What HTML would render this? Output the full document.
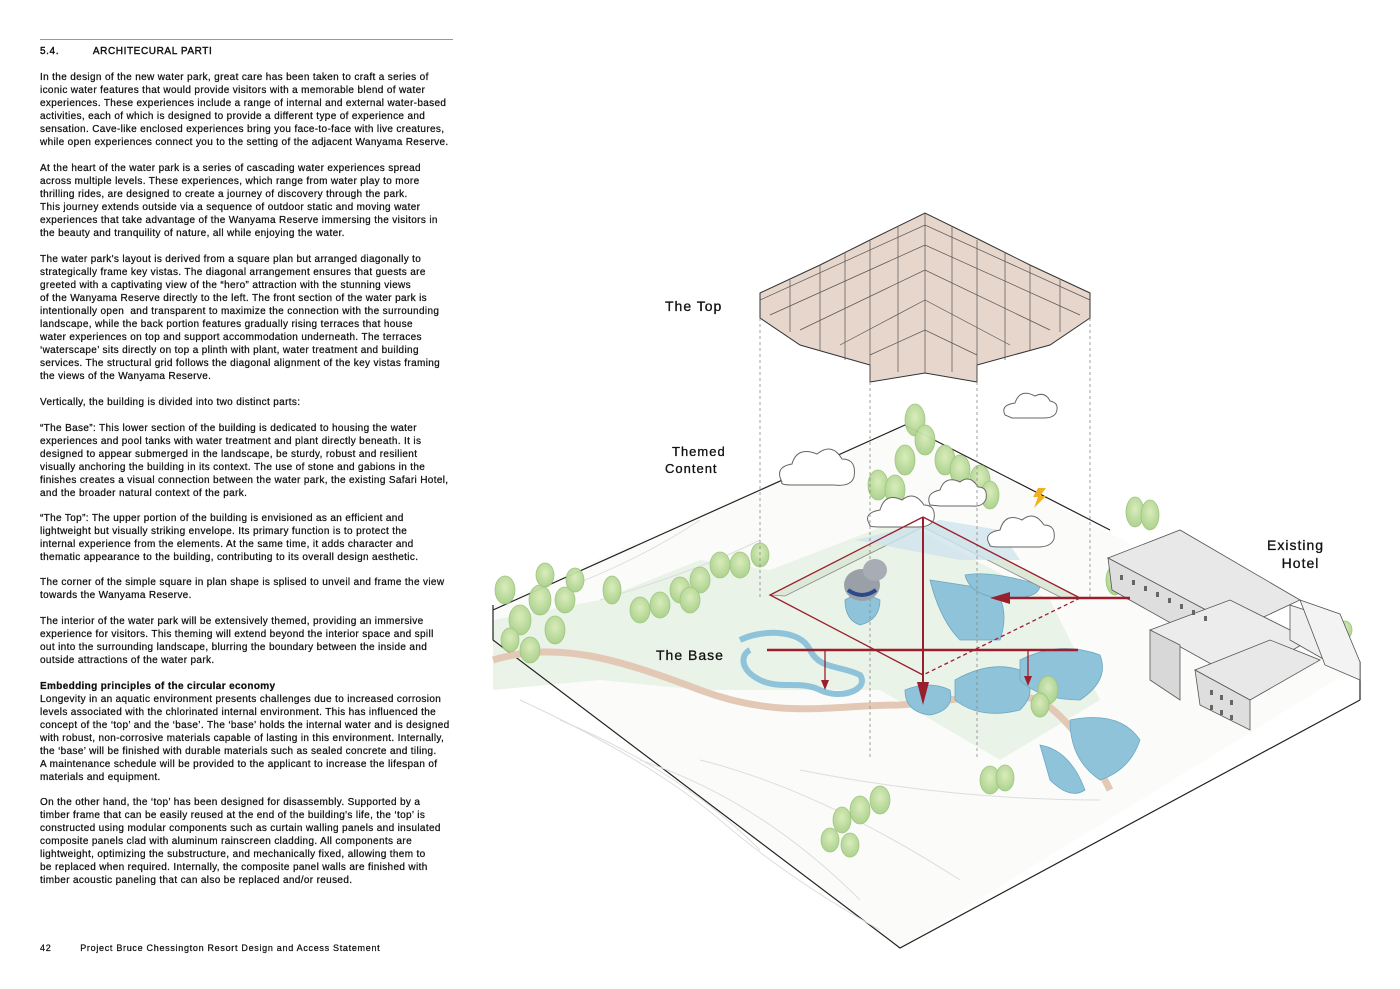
<!DOCTYPE html>
<html><head><meta charset="utf-8">
<style>
html,body{margin:0;padding:0;background:#fff;}
body{width:1400px;height:989px;position:relative;overflow:hidden;font-family:"Liberation Sans",sans-serif;color:#111;}
.t{position:absolute;left:40px;font-size:10px;line-height:12.95px;letter-spacing:0.35px;white-space:nowrap;-webkit-text-stroke:0.25px #111;}
.lbl{position:absolute;font-size:14px;letter-spacing:1px;color:#111;white-space:nowrap;-webkit-text-stroke:0.3px #111;}
</style></head><body>
<div style="position:absolute;left:40px;top:39px;width:413px;height:1px;background:#999"></div>
<div class="t" style="top:46px;letter-spacing:0.6px;-webkit-text-stroke:0.4px #111">5.4.&nbsp;&nbsp;&nbsp;&nbsp;&nbsp;&nbsp;&nbsp;&nbsp;&nbsp;&nbsp;ARCHITECURAL PARTI</div>

<div class="t" style="top:72px">In the design of the new water park, great care has been taken to craft a series of<br>iconic water features that would provide visitors with a memorable blend of water<br>experiences. These experiences include a range of internal and external water-based<br>activities, each of which is designed to provide a different type of experience and<br>sensation. Cave-like enclosed experiences bring you face-to-face with live creatures,<br>while open experiences connect you to the setting of the adjacent Wanyama Reserve.</div>

<div class="t" style="top:163px">At the heart of the water park is a series of cascading water experiences spread<br>across multiple levels. These experiences, which range from water play to more<br>thrilling rides, are designed to create a journey of discovery through the park.<br>This journey extends outside via a sequence of outdoor static and moving water<br>experiences that take advantage of the Wanyama Reserve immersing the visitors in<br>the beauty and tranquility of nature, all while enjoying the water.</div>

<div class="t" style="top:254px">The water park's layout is derived from a square plan but arranged diagonally to<br>strategically frame key vistas. The diagonal arrangement ensures that guests are<br>greeted with a captivating view of the “hero” attraction with the stunning views<br>of the Wanyama Reserve directly to the left. The front section of the water park is<br>intentionally open&nbsp; and transparent to maximize the connection with the surrounding<br>landscape, while the back portion features gradually rising terraces that house<br>water experiences on top and support accommodation underneath. The terraces<br>‘waterscape’ sits directly on top a plinth with plant, water treatment and building<br>services. The structural grid follows the diagonal alignment of the key vistas framing<br>the views of the Wanyama Reserve.</div>

<div class="t" style="top:397px">Vertically, the building is divided into two distinct parts:</div>

<div class="t" style="top:423px">“The Base”: This lower section of the building is dedicated to housing the water<br>experiences and pool tanks with water treatment and plant directly beneath. It is<br>designed to appear submerged in the landscape, be sturdy, robust and resilient<br>visually anchoring the building in its context. The use of stone and gabions in the<br>finishes creates a visual connection between the water park, the existing Safari Hotel,<br>and the broader natural context of the park.</div>

<div class="t" style="top:513px">“The Top”: The upper portion of the building is envisioned as an efficient and<br>lightweight but visually striking envelope. Its primary function is to protect the<br>internal experience from the elements. At the same time, it adds character and<br>thematic appearance to the building, contributing to its overall design aesthetic.</div>

<div class="t" style="top:577px">The corner of the simple square in plan shape is splised to unveil and frame the view<br>towards the Wanyama Reserve.</div>

<div class="t" style="top:616px">The interior of the water park will be extensively themed, providing an immersive<br>experience for visitors. This theming will extend beyond the interior space and spill<br>out into the surrounding landscape, blurring the boundary between the inside and<br>outside attractions of the water park.</div>

<div class="t" style="top:681px"><b>Embedding principles of the circular economy</b><br>Longevity in an aquatic environment presents challenges due to increased corrosion<br>levels associated with the chlorinated internal environment. This has influenced the<br>concept of the ‘top’ and the ‘base’. The ‘base’ holds the internal water and is designed<br>with robust, non-corrosive materials capable of lasting in this environment. Internally,<br>the ‘base’ will be finished with durable materials such as sealed concrete and tiling.<br>A maintenance schedule will be provided to the applicant to increase the lifespan of<br>materials and equipment.</div>

<div class="t" style="top:797px">On the other hand, the ‘top’ has been designed for disassembly. Supported by a<br>timber frame that can be easily reused at the end of the building's life, the ‘top’ is<br>constructed using modular components such as curtain walling panels and insulated<br>composite panels clad with aluminum rainscreen cladding. All components are<br>lightweight, optimizing the substructure, and mechanically fixed, allowing them to<br>be replaced when required. Internally, the composite panel walls are finished with<br>timber acoustic paneling that can also be replaced and/or reused.</div>

<div class="t" style="top:942px;font-size:9px;letter-spacing:0.7px">42&nbsp;&nbsp;&nbsp;&nbsp;&nbsp;&nbsp;&nbsp;&nbsp;&nbsp;Project Bruce Chessington Resort Design and Access Statement</div>

<svg width="1400" height="989" style="position:absolute;left:0;top:0" xmlns="http://www.w3.org/2000/svg">
<defs>
<radialGradient id="tr" cx="50%" cy="40%" r="60%"><stop offset="0" stop-color="#d8ecb8"/><stop offset="1" stop-color="#a9d08a"/></radialGradient>
</defs>
<!-- ground -->
<polygon points="493,605 905,425 1360,665 900,948 493,640" fill="#fbfcfa"/>
<polygon points="493,620 600,600 700,560 770,570 900,520 1050,600 1100,700 1000,760 880,690 700,690 600,680 493,690" fill="#e6f0e2" opacity="0.8"/>
<path d="M493,610 L905,425 L1110,530 M1290,625 L1360,662 L1360,700 M1360,700 L900,948 L493,640 L493,605" fill="none" stroke="#222" stroke-width="1.2"/>
<g stroke="#ddd" fill="none" stroke-width="1">
<path d="M520,700 Q650,760 720,820 T880,930"/><path d="M560,720 Q680,770 760,850"/><path d="M640,760 Q760,800 860,900"/><path d="M700,760 Q820,790 960,880"/><path d="M800,770 Q950,800 1100,800"/><path d="M560,590 Q640,560 700,520"/><path d="M600,600 Q700,570 760,540"/>
</g>
<path d="M493,660 C560,640 620,660 700,690 C780,720 830,705 900,705 C960,700 1000,690 1040,700 C1070,720 1090,750 1110,790" fill="none" stroke="#e3c9b5" stroke-width="7"/>
<g fill="#8fc3da" stroke="#6aa8c5" stroke-width="0.8">
<path d="M955,680 Q990,660 1020,670 Q1040,690 1020,710 Q980,720 955,700Z"/>
<path d="M1020,660 Q1060,640 1100,655 Q1110,680 1080,700 Q1040,700 1020,680Z"/>
<path d="M905,690 Q930,680 950,690 Q955,710 930,715 Q905,712 905,690Z"/>
<path d="M1070,720 Q1120,710 1140,740 Q1130,770 1100,780 Q1070,760 1070,720Z"/>
<path d="M1040,745 Q1070,750 1085,790 Q1070,800 1050,780Z"/>
<path d="M740,640 C760,630 800,628 810,650 C820,670 840,665 860,675 C870,690 840,700 820,690 C800,680 780,690 760,680 C740,670 740,655 750,650" fill="none" stroke="#8fc3da" stroke-width="6"/>
<path d="M930,580 Q940,620 960,640 L1000,640 Q1010,610 995,590Z"/>
<path d="M845,600 Q860,590 880,600 Q880,620 860,625 Q845,620 845,600Z"/>
<path d="M965,575 Q990,570 1040,585 Q1040,600 1000,598 Q970,595 965,575Z"/>
</g>
<polygon points="923,517 1080,598 1062,598 923,527 785,596 770,595" fill="#dce9d9" stroke="#888" stroke-width="0.8"/>
<polygon points="855,540 940,520 1000,530 1020,560 960,560" fill="#cfe3ee" opacity="0.8"/>
<g fill="url(#tr)" stroke="#9cc47c" stroke-width="0.8" opacity="0.95">
<ellipse cx="505" cy="590" rx="10" ry="14"/><ellipse cx="520" cy="620" rx="11" ry="15"/><ellipse cx="540" cy="600" rx="11" ry="15"/><ellipse cx="555" cy="630" rx="10" ry="14"/><ellipse cx="530" cy="650" rx="10" ry="13"/><ellipse cx="565" cy="600" rx="10" ry="13"/><ellipse cx="575" cy="580" rx="9" ry="12"/><ellipse cx="612" cy="590" rx="9" ry="14"/>
<ellipse cx="510" cy="640" rx="9" ry="12"/><ellipse cx="545" cy="575" rx="9" ry="12"/>
<ellipse cx="640" cy="610" rx="10" ry="13"/><ellipse cx="660" cy="605" rx="10" ry="13"/><ellipse cx="680" cy="590" rx="10" ry="13"/><ellipse cx="700" cy="580" rx="10" ry="13"/><ellipse cx="690" cy="600" rx="10" ry="13"/><ellipse cx="720" cy="565" rx="10" ry="13"/><ellipse cx="740" cy="565" rx="10" ry="13"/><ellipse cx="760" cy="555" rx="9" ry="12"/>
<ellipse cx="878" cy="485" rx="10" ry="15"/><ellipse cx="895" cy="490" rx="10" ry="15"/><ellipse cx="905" cy="460" rx="10" ry="15"/><ellipse cx="915" cy="420" rx="10" ry="16"/><ellipse cx="925" cy="440" rx="10" ry="15"/><ellipse cx="945" cy="460" rx="10" ry="15"/><ellipse cx="960" cy="470" rx="10" ry="15"/><ellipse cx="980" cy="480" rx="10" ry="15"/><ellipse cx="990" cy="495" rx="9" ry="14"/>
<ellipse cx="1115" cy="580" rx="9" ry="15"/><ellipse cx="1130" cy="585" rx="9" ry="15"/>
<ellipse cx="1135" cy="512" rx="9" ry="15"/><ellipse cx="1150" cy="515" rx="9" ry="15"/>
<ellipse cx="1048" cy="690" rx="10" ry="14"/><ellipse cx="1040" cy="705" rx="9" ry="12"/>
<ellipse cx="842" cy="820" rx="9" ry="13"/><ellipse cx="860" cy="810" rx="10" ry="14"/><ellipse cx="880" cy="800" rx="10" ry="14"/><ellipse cx="830" cy="840" rx="9" ry="12"/><ellipse cx="850" cy="845" rx="9" ry="12"/>
<ellipse cx="990" cy="780" rx="10" ry="14"/><ellipse cx="1005" cy="778" rx="9" ry="13"/>
<ellipse cx="1345" cy="630" rx="7" ry="9"/>
</g>
<g fill="#fff" stroke="#666" stroke-width="1">
<path d="M782,482 q-8,-15 10,-18 q5,-18 25,-10 q15,-12 25,5 q15,0 12,18 q-3,10 -20,8 l-40,0 q-15,0 -12,-3Z"/>
<path d="M870,525 q-8,-12 10,-15 q5,-18 22,-10 q12,-10 22,5 q12,0 10,14 q-3,8 -16,8 l-36,0 q-14,0 -12,-2Z"/>
<path d="M930,505 q-5,-12 10,-15 q5,-15 20,-8 q10,-8 18,5 q10,0 8,12 q-3,8 -14,7 l-32,0Z"/>
<path d="M1005,415 q-5,-10 10,-12 q5,-15 20,-7 q10,-5 15,5 q10,2 6,12 q-3,5 -12,5 l-32,0Z"/>
<path d="M990,545 q-8,-12 10,-15 q5,-18 22,-10 q12,-10 22,5 q12,0 10,14 q-3,8 -16,8 l-36,0 q-14,0 -12,-2Z"/>
</g>
<polygon points="1038,488 1046,488 1040,496 1046,496 1034,508 1038,497 1033,497" fill="#f0b020"/>
<g fill="#e8e8e8" stroke="#555" stroke-width="0.8">
<polygon points="1108,558 1180,530 1300,600 1240,628"/>
<polygon points="1108,558 1240,628 1240,662 1112,590" fill="#dedede"/>
<polygon points="1150,630 1230,600 1310,640 1240,680" fill="#ececec"/>
<polygon points="1150,630 1180,645 1180,700 1150,680" fill="#d8d8d8"/>
<polygon points="1195,670 1270,640 1320,660 1250,700"/>
<polygon points="1195,670 1250,700 1250,730 1200,705" fill="#dedede"/>
<polygon points="1290,605 1335,620 1325,660 1290,640" fill="#efefef"/>
<polygon points="1300,600 1340,614 1360,662 1360,680 1325,665" fill="#f3f3f3"/>
</g>
<g fill="#666">
<rect x="1120" y="575" width="3" height="5"/><rect x="1132" y="580" width="3" height="5"/><rect x="1144" y="586" width="3" height="5"/><rect x="1156" y="592" width="3" height="5"/><rect x="1168" y="598" width="3" height="5"/><rect x="1180" y="604" width="3" height="5"/><rect x="1192" y="610" width="3" height="5"/><rect x="1204" y="616" width="3" height="5"/>
<rect x="1210" y="690" width="3" height="5"/><rect x="1220" y="695" width="3" height="5"/><rect x="1230" y="700" width="3" height="5"/><rect x="1210" y="705" width="3" height="5"/><rect x="1220" y="710" width="3" height="5"/><rect x="1230" y="715" width="3" height="5"/>
</g>
<path d="M760,293 L820,265 L870,240 L925,213 L980,240 L1030,265 L1090,293 L1090,318 L1050,345 L977,365 L977,382 L925,373 L870,382 L870,365 L800,345 L760,318Z" fill="#e6d6cb" stroke="#333" stroke-width="1"/>
<g stroke="#555" stroke-width="0.7" fill="none">
<path d="M790,280 L790,332 M820,265 L820,350 M845,252 L845,360 M870,240 L870,382 M898,226 L898,372 M925,213 L925,373 M952,226 L952,372 M977,240 L977,382 M1005,252 L1005,360 M1030,265 L1030,350 M1060,280 L1060,332"/>
<path d="M760,300 L925,225 L1090,300 M770,315 L925,245 L1080,315 M800,330 L925,270 L1050,330 M840,345 L925,300 L1010,345 M870,355 L925,330 L977,355"/>
</g>
<g stroke="#888" stroke-width="0.8" stroke-dasharray="3,3">
<line x1="760" y1="318" x2="760" y2="600"/><line x1="870" y1="382" x2="870" y2="760"/><line x1="977" y1="382" x2="977" y2="760"/><line x1="1090" y1="318" x2="1090" y2="600"/>
</g>
<g stroke="#9a1f2e" fill="none" stroke-width="1.3">
<path d="M923,517 L770,595 L923,675"/><path d="M923,517 L1080,598"/><path d="M1080,598 L923,675" stroke-dasharray="4,3"/>
<line x1="923" y1="517" x2="923" y2="690" stroke-width="2"/>
<line x1="767" y1="650" x2="1078" y2="650" stroke-width="2.5"/>
<line x1="825" y1="650" x2="825" y2="682"/><line x1="1028" y1="650" x2="1028" y2="678"/>
<line x1="1130" y1="598" x2="1005" y2="598" stroke-width="2.5"/>
</g>
<g fill="#9a1f2e">
<polygon points="917,682 929,682 923,705"/>
<polygon points="821,680 829,680 825,690"/><polygon points="1024,676 1032,676 1028,686"/>
<polygon points="1010,592 1010,604 990,598"/>
</g>
<ellipse cx="862" cy="585" rx="18" ry="16" fill="#9aa0a8"/><ellipse cx="875" cy="570" rx="12" ry="11" fill="#a8adb5"/>
<path d="M848,590 q14,10 28,0" stroke="#2a4a8a" stroke-width="4" fill="none"/>
</svg>

<div class="lbl" style="left:665px;top:298px">The Top</div>
<div class="lbl" style="left:672px;top:443px;line-height:17px;font-size:13px">Themed<br><span style="margin-left:-7px">Content</span></div>
<div class="lbl" style="left:656px;top:647px">The Base</div>
<div class="lbl" style="left:1267px;top:536px;line-height:18px">Existing<br>&nbsp;&nbsp;&nbsp;Hotel</div>
</body></html>
